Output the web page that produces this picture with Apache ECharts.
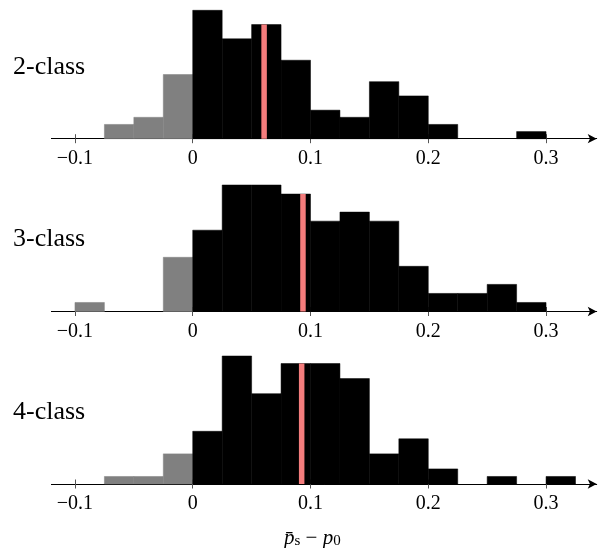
<!DOCTYPE html>
<html>
<head>
<meta charset="utf-8">
<script src="https://cdn.jsdelivr.net/npm/echarts@6/dist/echarts.min.js"></script>
<style>
html,body{margin:0;padding:0;background:#fff;}
#chart{width:600px;height:548px;}
</style>
</head>
<body>
<div id="chart"></div>
<script>
// Histogram bin edges (width 0.025)
const binEdges = [-0.1, -0.075, -0.05, -0.025, 0, 0.025, 0.05, 0.075, 0.1, 0.125, 0.15, 0.175, 0.2, 0.225, 0.25, 0.275, 0.3, 0.325];
// Counts per bin for each panel
const counts2class = [0, 2, 3, 9, 18, 14, 16, 11, 4, 3, 8, 6, 2, 0, 0, 1, 0];
const counts3class = [1, 0, 0, 6, 9, 14, 14, 13, 10, 11, 10, 5, 2, 2, 3, 1, 0];
const counts4class = [0, 1, 1, 4, 7, 17, 12, 16, 16, 14, 4, 6, 2, 0, 1, 0, 1];
// Mean of each distribution (red marker)
const means = [0.0606, 0.0936, 0.0925];
const panelLabels = ['2-class', '3-class', '4-class'];
const tickValues = [-0.1, 0, 0.1, 0.2, 0.3];
const tickLabels = ['\u22120.1', '0', '0.1', '0.2', '0.3'];

const allCounts = [counts2class, counts3class, counts4class];

const grids = [
  {left: 51.4, right: 3.3, top: 10.3, height: 128.4, outerBoundsMode: 'none', containLabel: false},
  {left: 51.4, right: 3.3, top: 185, height: 126.5, outerBoundsMode: 'none', containLabel: false},
  {left: 51.4, right: 3.3, top: 356, height: 128, outerBoundsMode: 'none', containLabel: false}
];

const serif = "'Liberation Serif', 'DejaVu Serif', serif";

function labelFmt(v) {
  const idx = tickValues.findIndex(t => Math.abs(t - v) < 1e-9);
  return idx >= 0 ? tickLabels[idx] : '';
}

const xAxes = [];
const yAxes = [];
const series = [];
const graphics = [];

allCounts.forEach((counts, i) => {
  xAxes.push({
    gridIndex: i, type: 'value', min: -0.12, max: 0.343, position: 'bottom',
    axisLine: {show: true, onZero: false, lineStyle: {color: '#000', width: 1}, symbol: ['none', 'arrow'], symbolSize: [7, 9]},
    axisTick: {show: true, customValues: tickValues, length: 4.5, lineStyle: {color: '#555', width: 1}},
    axisLabel: {customValues: tickValues, formatter: labelFmt, fontFamily: serif, fontSize: 20, color: '#000', margin: 10},
    splitLine: {show: false}
  });
  xAxes.push({
    gridIndex: i, type: 'value', min: -0.12, max: 0.343, position: 'bottom',
    axisLine: {show: false, onZero: false},
    axisTick: {show: true, inside: true, customValues: tickValues, length: 4.5, lineStyle: {color: '#555', width: 1}},
    axisLabel: {show: false},
    splitLine: {show: false}
  });
  yAxes.push({gridIndex: i, type: 'value', min: 0, max: Math.max(...counts), show: false, splitLine: {show: false}});

  const data = counts.map((c, k) => [binEdges[k], binEdges[k + 1], c]);
  series.push({
    type: 'custom', xAxisIndex: i * 2, yAxisIndex: i, data: data,
    encode: {x: [0, 1], y: 2},
    renderItem: function (params, api) {
      const x0 = api.value(0), x1 = api.value(1), c = api.value(2);
      if (!c) return null;
      const pTop = api.coord([x0, c]);
      const pBot = api.coord([x1, 0]);
      const col = x1 <= 0 ? '#808080' : '#000';
      return {
        type: 'rect',
        shape: {x: pTop[0], y: pTop[1], width: pBot[0] - pTop[0], height: pBot[1] - pTop[1]},
        style: {fill: col, stroke: col, lineWidth: 0.5}
      };
    }
  });

  // red mean line up to the height of its bin
  const m = means[i];
  let h = 0;
  for (let k = 0; k < counts.length; k++) {
    if (m >= binEdges[k] && m < binEdges[k + 1]) { h = counts[k]; break; }
  }
  series.push({
    type: 'line', xAxisIndex: i * 2, yAxisIndex: i, data: [[m, 0], [m, h]],
    symbol: 'none', lineStyle: {color: '#f47c7c', width: 5.5, cap: 'butt'}, z: 5, silent: true
  });

  const baseY = grids[i].top + grids[i].height;
  graphics.push({
    type: 'text', left: 13, top: baseY - 73 - 12,
    style: {text: panelLabels[i], font: "26px 'Liberation Serif'", fill: '#000'}
  });
});

// x-axis title
graphics.push({
  type: 'text', left: 284, top: 528,
  style: {
    text: '{i|p\u0304}{s|s}{n| \u2212 }{i|p}{s|0}',
    rich: {
      i: {fontFamily: serif, fontStyle: 'italic', fontSize: 21, fill: '#000', lineHeight: 24, verticalAlign: 'bottom'},
      s: {fontFamily: serif, fontSize: 15, fill: '#000', lineHeight: 20, verticalAlign: 'bottom'},
      n: {fontFamily: serif, fontSize: 21, fill: '#000', lineHeight: 24, verticalAlign: 'bottom'}
    }
  }
});

const chart = echarts.init(document.getElementById('chart'), null, {renderer: 'canvas'});
chart.setOption({
  animation: false,
  backgroundColor: '#fff',
  grid: grids,
  xAxis: xAxes,
  yAxis: yAxes,
  series: series,
  graphic: graphics
});
</script>
</body>
</html>
